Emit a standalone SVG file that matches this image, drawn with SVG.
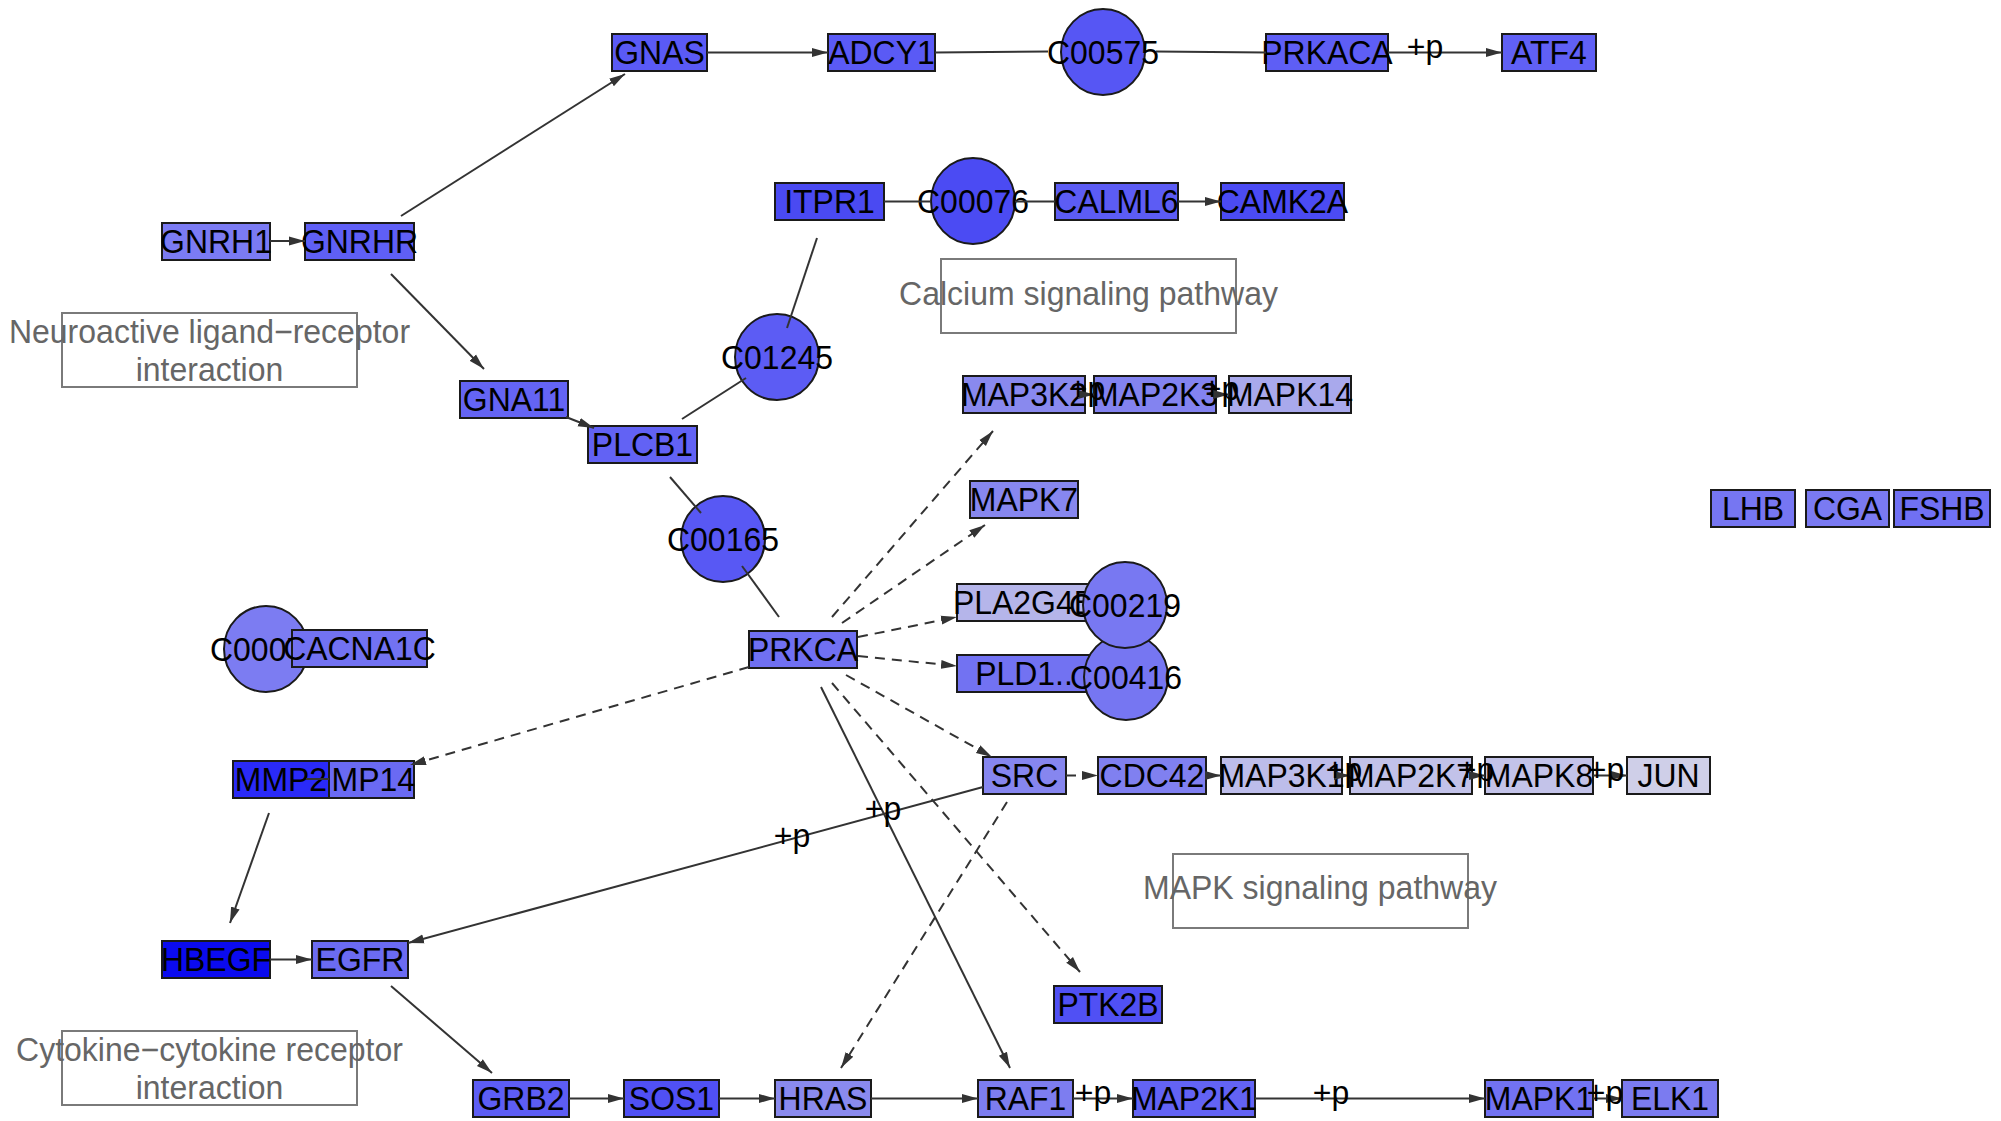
<svg xmlns="http://www.w3.org/2000/svg" width="2001" height="1121" viewBox="0 0 2001 1121">
<defs>
<style>
.n rect, .n ellipse { stroke:#1a1a1a; stroke-width:2; }
.n text, .lbl { font-family:"Liberation Sans", Arial, sans-serif; font-size:34px; fill:#000; text-anchor:middle; transform-box:fill-box; transform-origin:center; transform:scaleX(0.94); }
.grp rect { fill:none; stroke:#7a7a7a; stroke-width:2; }
.grp text { font-family:"Liberation Sans", Arial, sans-serif; font-size:33px; fill:#666; text-anchor:middle; transform-box:fill-box; transform-origin:center; transform:scaleX(0.97); }
.e { fill:none; stroke:#333; stroke-width:2; }
.a { marker-end:url(#arr); }
.d { stroke-dasharray:10,7; }
</style>
<marker id="arr" markerUnits="userSpaceOnUse" markerWidth="16" markerHeight="12" viewBox="0 0 16 12" refX="16" refY="6" orient="auto">
<path d="M0,1.5 L16,6 L0,10.5 Z" fill="#333"/>
</marker>
</defs>
<rect width="2001" height="1121" fill="#fff"/>

<g id="groups">
<g class="grp" id="grp-calcium"><rect x="941" y="259" width="295" height="74"/><text x="1088.5" y="305">Calcium signaling pathway</text></g>
<g class="grp" id="grp-neuro"><rect x="62" y="313" width="295" height="74"/><text x="209.5" y="343">Neuroactive ligand−receptor</text><text x="209.5" y="381">interaction</text></g>
<g class="grp" id="grp-mapk"><rect x="1173" y="854" width="295" height="74"/><text x="1320" y="899">MAPK signaling pathway</text></g>
<g class="grp" id="grp-cytokine"><rect x="62" y="1031" width="295" height="74"/><text x="209.5" y="1061">Cytokine−cytokine receptor</text><text x="209.5" y="1099">interaction</text></g>
</g>

<g id="nodes">
<g class="n" id="GNAS"><rect x="612" y="34" width="95" height="37" fill="#5a5af5"/><text x="659.5" y="64.5">GNAS</text></g>
<g class="n" id="ADCY1"><rect x="828" y="34" width="107" height="37" fill="#5a5af5"/><text x="881.5" y="64.5">ADCY1</text></g>
<g class="n" id="C00575"><ellipse cx="1103" cy="52" rx="42" ry="43" fill="#5656f4"/><text x="1103" y="64">C00575</text></g>
<g class="n" id="PRKACA"><rect x="1266" y="34" width="122" height="37" fill="#5e5ef5"/><text x="1327" y="64.5">PRKACA</text></g>
<g class="n" id="ATF4"><rect x="1502" y="34" width="94" height="37" fill="#6060f5"/><text x="1549" y="64.5">ATF4</text></g>
<g class="n" id="ITPR1"><rect x="775" y="183" width="109" height="37" fill="#4a4af2"/><text x="829.5" y="213.5">ITPR1</text></g>
<g class="n" id="C00076"><ellipse cx="973" cy="201" rx="42" ry="43" fill="#4b4bf3"/><text x="973" y="213">C00076</text></g>
<g class="n" id="CALML6"><rect x="1055" y="183" width="123" height="37" fill="#5c5cf4"/><text x="1116.5" y="213.5">CALML6</text></g>
<g class="n" id="CAMK2A"><rect x="1221" y="183" width="123" height="37" fill="#4b4bf3"/><text x="1282.5" y="213.5">CAMK2A</text></g>
<g class="n" id="GNRH1"><rect x="162" y="223" width="108" height="37" fill="#7b7bf3"/><text x="216" y="253.5">GNRH1</text></g>
<g class="n" id="GNRHR"><rect x="305" y="223" width="109" height="37" fill="#5f5ff5"/><text x="359.5" y="253.5">GNRHR</text></g>
<g class="n" id="C01245"><ellipse cx="777" cy="357" rx="42" ry="43" fill="#5c5cf4"/><text x="777" y="369">C01245</text></g>
<g class="n" id="GNA11"><rect x="460" y="381" width="108" height="37" fill="#6464f4"/><text x="514" y="411.5">GNA11</text></g>
<g class="n" id="PLCB1"><rect x="588" y="426" width="109" height="37" fill="#6262f4"/><text x="642.5" y="456.5">PLCB1</text></g>
<g class="n" id="C00165"><ellipse cx="723" cy="539" rx="42" ry="43" fill="#5858f4"/><text x="723" y="551">C00165</text></g>
<g class="n" id="MAP3K2"><rect x="963" y="376" width="122" height="37" fill="#8989ee"/><text x="1024" y="406.5">MAP3K2</text></g>
<g class="n" id="MAP2K3"><rect x="1094" y="376" width="122" height="37" fill="#8383f0"/><text x="1155" y="406.5">MAP2K3</text></g>
<g class="n" id="MAPK14"><rect x="1229" y="376" width="122" height="37" fill="#a9a9ec"/><text x="1290" y="406.5">MAPK14</text></g>
<g class="n" id="MAPK7"><rect x="970" y="481" width="108" height="37" fill="#8787ef"/><text x="1024" y="511.5">MAPK7</text></g>
<g class="n" id="LHB"><rect x="1711" y="490" width="84" height="37" fill="#7676f2"/><text x="1753" y="520.5">LHB</text></g>
<g class="n" id="CGA"><rect x="1806" y="490" width="83" height="37" fill="#7a7af2"/><text x="1847.5" y="520.5">CGA</text></g>
<g class="n" id="FSHB"><rect x="1894" y="490" width="96" height="37" fill="#7070f3"/><text x="1942" y="520.5">FSHB</text></g>
<g class="n" id="PLD1"><rect x="957" y="655" width="134" height="37" fill="#7272f2"/><text x="1024" y="685.5">PLD1..</text></g>
<g class="n" id="C00416"><ellipse cx="1126" cy="677" rx="42" ry="43" fill="#7676f2"/><text x="1126" y="689">C00416</text></g>
<g class="n" id="PLA2G4B"><rect x="957" y="584" width="134" height="37" fill="#b5b5ea"/><text x="1024" y="614.5">PLA2G4B</text></g>
<g class="n" id="C00219"><ellipse cx="1125" cy="605" rx="42" ry="43" fill="#7878f2"/><text x="1125" y="617">C00219</text></g>
<g class="n" id="PRKCA"><rect x="749" y="631" width="108" height="37" fill="#7070f2"/><text x="803" y="661.5">PRKCA</text></g>
<g class="n" id="C00076b"><ellipse cx="266" cy="649" rx="42" ry="43" fill="#7c7cf2"/><text x="266" y="661">C00076</text></g>
<g class="n" id="CACNA1C"><rect x="292" y="630" width="135" height="37" fill="#7272f2"/><text x="359.5" y="660.5">CACNA1C</text></g>
<g class="n" id="MMP14"><rect x="306" y="761" width="108" height="37" fill="#6a6af3"/><text x="360" y="791.5">MMP14</text></g>
<g class="n" id="MMP2"><rect x="233" y="761" width="96" height="37" fill="#2a2af8"/><text x="281" y="791.5">MMP2</text></g>
<g class="n" id="SRC"><rect x="983" y="757" width="83" height="37" fill="#8686ef"/><text x="1024.5" y="787.5">SRC</text></g>
<g class="n" id="CDC42"><rect x="1098" y="757" width="108" height="37" fill="#8080f0"/><text x="1152" y="787.5">CDC42</text></g>
<g class="n" id="MAP3K1"><rect x="1221" y="757" width="121" height="37" fill="#bdbdea"/><text x="1281.5" y="787.5">MAP3K1</text></g>
<g class="n" id="MAP2K7"><rect x="1350" y="757" width="122" height="37" fill="#c2c2e9"/><text x="1411" y="787.5">MAP2K7</text></g>
<g class="n" id="MAPK8"><rect x="1485" y="757" width="108" height="37" fill="#c3c3e9"/><text x="1539" y="787.5">MAPK8</text></g>
<g class="n" id="JUN"><rect x="1627" y="757" width="83" height="37" fill="#cfcfe8"/><text x="1668.5" y="787.5">JUN</text></g>
<g class="n" id="HBEGF"><rect x="162" y="941" width="108" height="37" fill="#0b0bef"/><text x="216" y="971.5">HBEGF</text></g>
<g class="n" id="EGFR"><rect x="312" y="941" width="96" height="37" fill="#6b6bf2"/><text x="360" y="971.5">EGFR</text></g>
<g class="n" id="PTK2B"><rect x="1054" y="986" width="108" height="37" fill="#5050f4"/><text x="1108" y="1016.5">PTK2B</text></g>
<g class="n" id="GRB2"><rect x="473" y="1080" width="96" height="37" fill="#5d5df4"/><text x="521" y="1110.5">GRB2</text></g>
<g class="n" id="SOS1"><rect x="624" y="1080" width="95" height="37" fill="#5050f4"/><text x="671.5" y="1110.5">SOS1</text></g>
<g class="n" id="HRAS"><rect x="775" y="1080" width="96" height="37" fill="#8a8aee"/><text x="823" y="1110.5">HRAS</text></g>
<g class="n" id="RAF1"><rect x="978" y="1080" width="95" height="37" fill="#7d7df0"/><text x="1025.5" y="1110.5">RAF1</text></g>
<g class="n" id="MAP2K1"><rect x="1133" y="1080" width="122" height="37" fill="#6363f4"/><text x="1194" y="1110.5">MAP2K1</text></g>
<g class="n" id="MAPK1"><rect x="1485" y="1080" width="108" height="37" fill="#7272f2"/><text x="1539" y="1110.5">MAPK1</text></g>
<g class="n" id="ELK1"><rect x="1622" y="1080" width="96" height="37" fill="#7b7bf0"/><text x="1670" y="1110.5">ELK1</text></g>
</g>

<g id="connectors">
<path class="e a" d="M270,241 L305,241"/>
<path class="e a" d="M401,216 L625,74"/>
<path class="e a" d="M391,274 L484,369"/>
<path class="e a" d="M566,417 L594,428"/>
<path class="e a" d="M707,52.5 L828,52.5"/>
<path class="e" d="M935,52.5 L1048,51.5"/>
<path class="e" d="M1156,51.5 L1266,52.5"/>
<path class="e a" d="M1388,52.5 L1502,52.5"/>
<path class="e" d="M884,201.5 L931,201.5"/>
<path class="e" d="M1015,201.5 L1055,201.5"/>
<path class="e a" d="M1178,201.5 L1221,201.5"/>
<path class="e" d="M682,419 L746,378"/>
<path class="e" d="M787,328 L817,238"/>
<path class="e" d="M670,477 L701,513"/>
<path class="e" d="M742,566 L779,617"/>
<path class="e a" d="M1085,394.5 L1094,394.5"/>
<path class="e a" d="M1216,394.5 L1229,394.5"/>
<path class="e d a" d="M832,617 L993,431"/>
<path class="e d a" d="M842,623 L985,525"/>
<path class="e d a" d="M858,637 L957,617"/>
<path class="e d a" d="M858,656 L957,666"/>
<path class="e d a" d="M846,675 L992,757"/>
<path class="e d a" d="M832,683 L1080,972"/>
<path class="e d a" d="M749,667 L410,765"/>
<path class="e a" d="M821,687 L1010,1068"/>
<path class="e d a" d="M1007,802 L841,1068"/>
<path class="e a" d="M983,787 L408,943"/>
<path class="e d a" d="M1066,775.5 L1098,775.5"/>
<path class="e a" d="M1206,775.5 L1221,775.5"/>
<path class="e a" d="M1342,775.5 L1350,775.5"/>
<path class="e a" d="M1472,775.5 L1485,775.5"/>
<path class="e a" d="M1593,775.5 L1627,775.5"/>
<path class="e" d="M306,779 L329,779"/>
<path class="e a" d="M269,813 L230,923"/>
<path class="e a" d="M270,959.5 L312,959.5"/>
<path class="e a" d="M391,986 L492,1073"/>
<path class="e a" d="M569,1098.5 L624,1098.5"/>
<path class="e a" d="M719,1098.5 L775,1098.5"/>
<path class="e a" d="M871,1098.5 L978,1098.5"/>
<path class="e a" d="M1073,1098.5 L1133,1098.5"/>
<path class="e a" d="M1255,1098.5 L1485,1098.5"/>
<path class="e a" d="M1593,1098.5 L1622,1098.5"/>
<g id="edge-labels">
<text class="lbl" x="1425" y="58">+p</text>
<text class="lbl" x="1087" y="400">+p</text>
<text class="lbl" x="1221" y="400">+p</text>
<text class="lbl" x="1344" y="781">+p</text>
<text class="lbl" x="1476" y="781">+p</text>
<text class="lbl" x="1606" y="781">+p</text>
<text class="lbl" x="792" y="847">+p</text>
<text class="lbl" x="883" y="820">+p</text>
<text class="lbl" x="1093" y="1104">+p</text>
<text class="lbl" x="1331" y="1104">+p</text>
<text class="lbl" x="1605" y="1104">+p</text>
</g>
</g>
</svg>
